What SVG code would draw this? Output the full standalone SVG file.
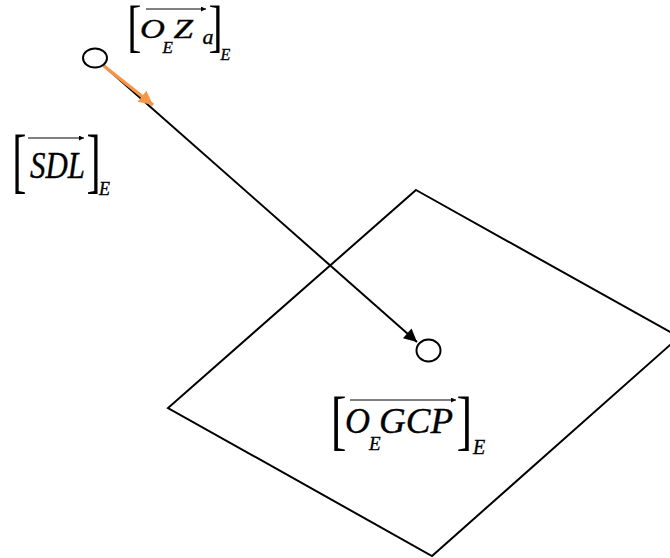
<svg xmlns="http://www.w3.org/2000/svg" width="670" height="558" viewBox="0 0 670 558">
<defs>
<style>
.m{font-family:"Liberation Serif","Times New Roman",serif;font-style:italic;fill:#000;stroke:#000;stroke-width:0.35}
.b{font-family:"Liberation Serif","Times New Roman",serif;font-style:normal;fill:#000}
.ln{stroke:#000;stroke-width:2;fill:none}
.va{stroke:#000;stroke-width:1;fill:none}
</style>
<marker id="ah" viewBox="0 0 10 10" refX="10" refY="5" markerWidth="7" markerHeight="5" markerUnits="userSpaceOnUse" orient="auto"><path d="M0,0 L10,5 L0,10 z" fill="#000"/></marker>
<marker id="big" viewBox="0 0 10 10" refX="10" refY="5" markerWidth="18" markerHeight="13" markerUnits="userSpaceOnUse" orient="auto"><path d="M0,0 L10,5 L0,10 z" fill="#000"/></marker>
<marker id="org" viewBox="0 0 10 10" refX="10" refY="5" markerWidth="18" markerHeight="14" markerUnits="userSpaceOnUse" orient="auto"><path d="M0,0 L10,5 L0,10 z" fill="#F79646"/></marker>
</defs>

<g id="plane">
<polygon class="ln" points="416,190 679,337 432,556 168,408"/>
</g>

<g id="connectors">
<line class="ln" x1="104" y1="66" x2="417" y2="342" marker-end="url(#big)"/>
<line x1="104" y1="66" x2="153" y2="105" stroke="#F79646" stroke-width="3.5" marker-end="url(#org)"/>
</g>

<g id="satellite">
<ellipse class="ln" cx="95" cy="58" rx="12" ry="9.5"/>
</g>

<g id="gcp">
<ellipse class="ln" cx="428.5" cy="350.5" rx="12" ry="11"/>
</g>

<g id="label-OEZa">
<text class="b" font-size="30" transform="translate(127.3,44.5) scale(1.42,1.91)">[</text>
<text class="m" font-size="26.5" transform="translate(140,37.5) scale(1.3,1)">O</text>
<text class="m" font-size="17" x="162.5" y="53">E</text>
<text class="m" font-size="26.5" transform="translate(173.5,37.5) scale(1.32,1)">Z</text>
<text class="m" font-size="22" x="202.6" y="43.5">a</text>
<text class="b" font-size="30" transform="translate(208.6,44.5) scale(1.42,1.91)">]</text>
<text class="m" font-size="16" x="220.5" y="60">E</text>
<line class="va" x1="146" y1="9" x2="206" y2="9" marker-end="url(#ah)"/>
</g>

<g id="label-SDL">
<text class="b" font-size="30" transform="translate(12.25,183.7) scale(1.42,2.4)">[</text>
<text class="m" font-size="38" x="30" y="177.5" textLength="55" lengthAdjust="spacingAndGlyphs">SDL</text>
<text class="b" font-size="30" transform="translate(86.6,183.7) scale(1.42,2.4)">]</text>
<text class="m" font-size="18" x="99" y="195">E</text>
<line class="va" x1="28" y1="138" x2="84" y2="138" marker-end="url(#ah)"/>
</g>

<g id="label-OEGCP">
<text class="b" font-size="30" transform="translate(330.8,441.6) scale(1.58,2.17)">[</text>
<text class="m" font-size="36" x="345" y="433" textLength="25" lengthAdjust="spacingAndGlyphs">O</text>
<text class="m" font-size="19" x="369" y="450">E</text>
<text class="m" font-size="36" x="379" y="433" textLength="74" lengthAdjust="spacingAndGlyphs">GCP</text>
<text class="b" font-size="30" transform="translate(456.4,441.6) scale(1.58,2.17)">]</text>
<text class="m" font-size="20" x="473" y="453.5">E</text>
<line class="va" x1="350" y1="400" x2="456" y2="400" marker-end="url(#ah)"/>
</g>
</svg>
